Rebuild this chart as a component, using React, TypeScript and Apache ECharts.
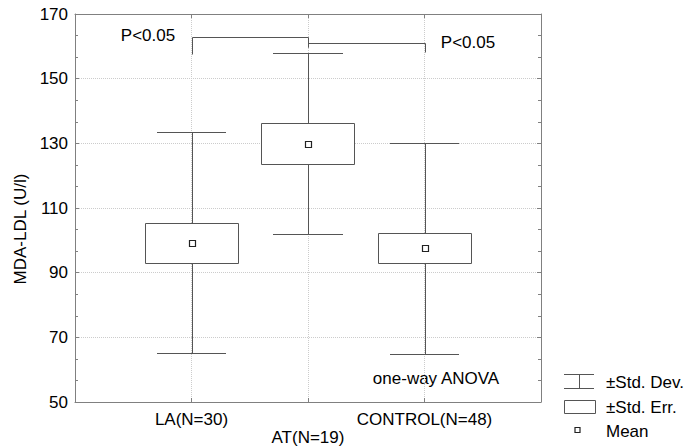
import React, { useEffect, useRef } from 'react';
import * as echarts from 'echarts';

const categories = ['LA(N=30)', 'AT(N=19)', 'CONTROL(N=48)'];
const positions = [1, 2, 3];
const means = [99.25, 129.9, 97.5];
const stdErrs = [6.15, 6.4, 4.65];
const stdDevs = [34.15, 27.9, 32.65];

// significance brackets
const bracketFrom = [1, 2];
const bracketTo = [2, 3];
const bracketTop = [163.0, 161.1];
const bracketEndFrom = [157.6, 159.9];
const bracketEndTo = [159.9, 158.3];

const yMin = 50;
const yMax = 170;
const yStep = 20;

const FONT = "'Liberation Sans', Arial, Helvetica, sans-serif";
const FRAME = '#808080';
const STROKE = '#555555';

const px = (v: number) => Math.round(v) + 0.5;

export default function App() {
  const ref = useRef<HTMLDivElement>(null);
  useEffect(() => {
    document.body.style.margin = '0';
    if (!ref.current) return;
    const chart = echarts.init(ref.current, undefined, { renderer: 'svg' });
    const boxData = positions.map((p, i) => [p, means[i], stdErrs[i], stdDevs[i]]);
    const bracketData = bracketFrom.map((f, i) => [f, bracketTo[i], bracketTop[i], bracketEndFrom[i], bracketEndTo[i]]);

    const commonX = {
      type: 'value',
      min: 0,
      max: 4,
      interval: 1,
      axisLine: { show: true, onZero: false, lineStyle: { color: FRAME, width: 1 } },
      axisTick: { show: true, inside: true, length: 4, lineStyle: { color: FRAME } },
    };
    const commonY = {
      type: 'value',
      min: yMin,
      max: yMax,
      interval: yStep,
      axisLine: { show: true, onZero: false, lineStyle: { color: FRAME, width: 1 } },
      axisTick: { show: true, inside: true, length: 4, lineStyle: { color: FRAME } },
      minorTick: { show: true, splitNumber: 3, length: 3, lineStyle: { color: FRAME } },
    };

    chart.setOption({
      animation: false,
      backgroundColor: '#ffffff',
      grid: { left: 75, top: 14, width: 466, height: 388, containLabel: false },
      xAxis: [
        {
          ...commonX,
          position: 'bottom',
          axisLabel: {
            fontSize: 17,
            color: '#000',
            fontFamily: FONT,
            margin: 8,
            lineHeight: 18,
            formatter: (v: number) => {
              const i = positions.indexOf(v);
              if (i < 0) return '';
              return i === 1 ? '\n' + categories[i] : categories[i];
            },
          },
          splitLine: {
            show: true,
            showMinLine: false,
            showMaxLine: false,
            lineStyle: { type: 'dotted', color: '#cccccc' },
          },
        },
        {
          ...commonX,
          position: 'top',
          axisLabel: { show: false },
          splitLine: { show: false },
        },
      ],
      yAxis: [
        {
          ...commonY,
          position: 'left',
          axisLabel: { fontSize: 17, color: '#000', fontFamily: FONT, margin: 7 },
          splitLine: {
            show: true,
            showMinLine: false,
            showMaxLine: false,
            lineStyle: { type: 'dotted', color: '#cccccc' },
          },
        },
        {
          ...commonY,
          position: 'right',
          axisLabel: { show: false },
          splitLine: { show: false },
        },
      ],
      series: [
        {
          type: 'custom',
          xAxisIndex: 0,
          yAxisIndex: 0,
          data: boxData,
          encode: { x: 0, y: 1 },
          renderItem: (params: any, api: any) => {
            const x = api.value(0);
            const m = api.value(1);
            const se = api.value(2);
            const sd = api.value(3);
            const top = api.coord([x, m + sd]);
            const bot = api.coord([x, m - sd]);
            const cl = api.coord([x - 0.3, m])[0];
            const cr = api.coord([x + 0.3, m])[0];
            const b1 = api.coord([x - 0.4, m + se]);
            const b2 = api.coord([x + 0.4, m - se]);
            const c = api.coord([x, m]);
            const cx = px(top[0]);
            const ls = { stroke: STROKE, lineWidth: 1, fill: 'none' };
            return {
              type: 'group',
              children: [
                { type: 'line', shape: { x1: cx, y1: px(top[1]), x2: cx, y2: px(bot[1]) }, style: ls },
                { type: 'line', shape: { x1: Math.round(cl), y1: px(top[1]), x2: Math.round(cr), y2: px(top[1]) }, style: ls },
                { type: 'line', shape: { x1: Math.round(cl), y1: px(bot[1]), x2: Math.round(cr), y2: px(bot[1]) }, style: ls },
                {
                  type: 'rect',
                  shape: { x: px(b1[0]), y: px(b1[1]), width: Math.round(b2[0] - b1[0]), height: Math.round(b2[1] - b1[1]) },
                  style: { fill: '#ffffff', stroke: STROKE, lineWidth: 1 },
                },
                {
                  type: 'rect',
                  shape: { x: Math.round(c[0]) - 2.5, y: Math.round(c[1]) - 2.5, width: 6, height: 6 },
                  style: { fill: '#ffffff', stroke: '#222222', lineWidth: 1.2 },
                },
              ],
            };
          },
        },
        {
          type: 'custom',
          xAxisIndex: 0,
          yAxisIndex: 0,
          data: bracketData,
          encode: { x: [0, 1], y: 2 },
          renderItem: (params: any, api: any) => {
            const a = api.coord([api.value(0), api.value(3)]);
            const b = api.coord([api.value(0), api.value(2)]);
            const c = api.coord([api.value(1), api.value(2)]);
            const d = api.coord([api.value(1), api.value(4)]);
            return {
              type: 'polyline',
              shape: {
                points: [
                  [px(a[0]), px(a[1])],
                  [px(b[0]), px(b[1])],
                  [px(c[0]), px(c[1])],
                  [px(d[0]), px(d[1])],
                ],
              },
              style: { stroke: STROKE, lineWidth: 1, fill: 'none' },
            };
          },
        },
      ],
      graphic: [
        {
          type: 'text',
          x: 20,
          y: 229,
          rotation: Math.PI / 2,
          style: { text: 'MDA-LDL (U/l)', fontSize: 17, fontFamily: FONT, fill: '#000', align: 'center', verticalAlign: 'middle' },
        },
        {
          type: 'text',
          x: 148,
          y: 35,
          style: { text: 'P<0.05', fontSize: 17, fontFamily: FONT, fill: '#000', align: 'center', verticalAlign: 'middle' },
        },
        {
          type: 'text',
          x: 468,
          y: 42,
          style: { text: 'P<0.05', fontSize: 17, fontFamily: FONT, fill: '#000', align: 'center', verticalAlign: 'middle' },
        },
        {
          type: 'text',
          x: 436,
          y: 378,
          style: { text: 'one-way ANOVA', fontSize: 17, fontFamily: FONT, fill: '#000', align: 'center', verticalAlign: 'middle' },
        },
        // legend
        { type: 'line', shape: { x1: 564, y1: 374.5, x2: 594, y2: 374.5 }, style: { stroke: STROKE, lineWidth: 1 } },
        { type: 'line', shape: { x1: 564, y1: 388.5, x2: 594, y2: 388.5 }, style: { stroke: STROKE, lineWidth: 1 } },
        { type: 'line', shape: { x1: 579.5, y1: 374.5, x2: 579.5, y2: 388.5 }, style: { stroke: STROKE, lineWidth: 1 } },
        { type: 'rect', shape: { x: 564.5, y: 400.5, width: 31, height: 13 }, style: { fill: '#fff', stroke: STROKE, lineWidth: 1 } },
        { type: 'rect', shape: { x: 575, y: 427.5, width: 5, height: 5 }, style: { fill: '#fff', stroke: '#222', lineWidth: 1.2 } },
        {
          type: 'text',
          x: 606,
          y: 382,
          style: { text: '±Std. Dev.', fontSize: 17, fontFamily: FONT, fill: '#000', align: 'left', verticalAlign: 'middle' },
        },
        {
          type: 'text',
          x: 606,
          y: 407,
          style: { text: '±Std. Err.', fontSize: 17, fontFamily: FONT, fill: '#000', align: 'left', verticalAlign: 'middle' },
        },
        {
          type: 'text',
          x: 606,
          y: 431,
          style: { text: 'Mean', fontSize: 17, fontFamily: FONT, fill: '#000', align: 'left', verticalAlign: 'middle' },
        },
      ],
    });
    return () => chart.dispose();
  }, []);
  return <div ref={ref} style={{ width: 686, height: 447 }} />;
}
